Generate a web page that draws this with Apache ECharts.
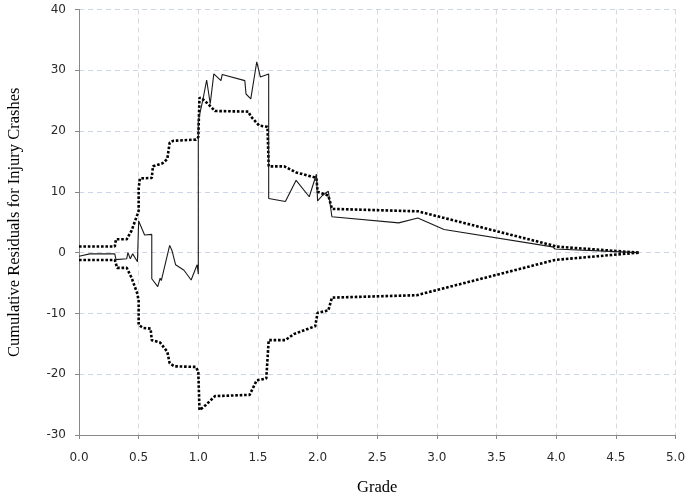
<!DOCTYPE html>
<html>
<head>
<meta charset="utf-8">
<script src="https://cdn.jsdelivr.net/npm/echarts@6/dist/echarts.min.js"></script>
<style>html,body{margin:0;padding:0;background:#fff}#c{width:685px;height:495px}</style>
</head>
<body>
<div id="c"></div>
<script>
var xTicks = [0, 0.5, 1.0, 1.5, 2.0, 2.5, 3.0, 3.5, 4.0, 4.5, 5.0];
var yTicks = [-30, -20, -10, 0, 10, 20, 30, 40];

var residGrade = [0.00,0.09,0.30,0.31,0.40,0.41,0.43,0.45,0.49,0.50,0.50,0.55,0.61,0.61,0.66,0.68,0.69,0.76,0.78,0.81,0.88,0.94,0.99,1.00,1.00,1.04,1.07,1.10,1.13,1.19,1.20,1.39,1.40,1.44,1.49,1.52,1.59,1.59,1.73,1.82,1.93,1.99,2.00,2.04,2.09,2.12,2.68,2.84,3.06,3.97,3.99,4.69];
var residValue = [-0.6,-0.2,-0.2,-1.15,-1.0,0.0,-1.0,-0.2,-1.5,-1.8,5.2,2.9,3.0,-4.3,-5.6,-4.2,-4.6,1.2,0.3,-2.0,-2.9,-4.5,-2.0,-3.5,21.7,25.3,28.4,24.5,29.4,28.3,29.3,28.3,26.1,25.3,31.4,28.9,29.4,8.9,8.4,11.9,9.2,12.9,8.5,9.4,10.1,5.9,4.9,5.7,3.8,0.95,0.6,0.0];

var upperGrade = [0.00,0.30,0.31,0.40,0.44,0.49,0.50,0.50,0.51,0.61,0.62,0.70,0.74,0.76,0.79,0.98,1.00,1.01,1.04,1.08,1.14,1.42,1.44,1.51,1.58,1.59,1.72,1.82,1.99,2.00,2.09,2.12,2.84,3.97,4.00,4.69];
var upperValue = [1.0,1.0,2.2,2.2,3.6,6.3,6.9,10.5,12.2,12.3,14.2,14.7,15.4,18.1,18.4,18.6,19.0,25.5,25.2,24.5,23.3,23.2,22.4,20.9,20.7,14.2,14.2,13.2,12.3,10.0,9.4,7.2,6.8,1.2,1.0,0.0];

var lowerGrade = [0.00,0.30,0.32,0.40,0.44,0.49,0.50,0.50,0.54,0.60,0.61,0.68,0.74,0.76,0.80,0.98,1.00,1.01,1.05,1.14,1.43,1.49,1.57,1.59,1.73,1.80,1.98,2.00,2.09,2.12,2.83,3.99,4.69];
var lowerValue = [-1.2,-1.2,-2.5,-2.5,-4.1,-6.8,-8.0,-11.9,-12.4,-12.5,-14.4,-14.8,-16.3,-18.2,-18.7,-18.8,-19.6,-25.9,-25.3,-23.6,-23.4,-21.0,-20.7,-14.4,-14.4,-13.4,-12.1,-9.9,-9.5,-7.4,-7.0,-1.2,0.0];

function pairs(xs, ys){ return xs.map(function(x,i){ return [x, ys[i]]; }); }

var chart = echarts.init(document.getElementById('c'), null, {renderer:'canvas'});
var dotStyle = {color:'#000', width:2.6, type:[2.6,1.8]};
chart.setOption({
  animation:false,
  grid:{left:79, right:9.5, top:9.5, bottom:60, containLabel:false, outerBoundsMode:'none'},
  xAxis:{
    type:'value', min:xTicks[0], max:xTicks[xTicks.length-1], interval:0.5,
    name:'Grade', nameLocation:'middle', nameGap:44,
    nameTextStyle:{fontFamily:'Liberation Serif', fontSize:16.5, color:'#000'},
    axisLine:{onZero:false, lineStyle:{color:'#888', width:1}},
    axisTick:{show:true, inside:false, length:4, lineStyle:{color:'#888'}},
    axisLabel:{margin:17, fontFamily:'DejaVu Sans', fontSize:12, color:'#2a2a2a',
      formatter:function(v){ return v.toFixed(1); }},
    splitLine:{show:true, lineStyle:{color:'#d9d9d9', type:[5,4], width:1}}
  },
  yAxis:{
    type:'value', min:yTicks[0], max:yTicks[yTicks.length-1], interval:10,
    name:'Cumulative Residuals for Injury Crashes', nameLocation:'middle', nameGap:56,
    nameTextStyle:{fontFamily:'Liberation Serif', fontSize:16.5, color:'#000'},
    axisLine:{show:true, onZero:false, lineStyle:{color:'#888', width:1}},
    axisTick:{show:true, inside:false, length:4, lineStyle:{color:'#888'}},
    axisLabel:{margin:13, fontFamily:'DejaVu Sans', fontSize:12, color:'#2a2a2a'},
    splitLine:{show:true, lineStyle:{color:'#cdd3e8', type:[5,4], width:1}}
  },
  series:[
    {type:'line', data:pairs(upperGrade, upperValue), showSymbol:false, symbol:'none',
      lineStyle:dotStyle, z:2},
    {type:'line', data:pairs(lowerGrade, lowerValue), showSymbol:false, symbol:'none',
      lineStyle:dotStyle, z:2},
    {type:'line', data:pairs(residGrade, residValue), showSymbol:false, symbol:'none',
      lineStyle:{color:'#1a1a1a', width:1.1}, z:3}
  ]
});
</script>
</body>
</html>
